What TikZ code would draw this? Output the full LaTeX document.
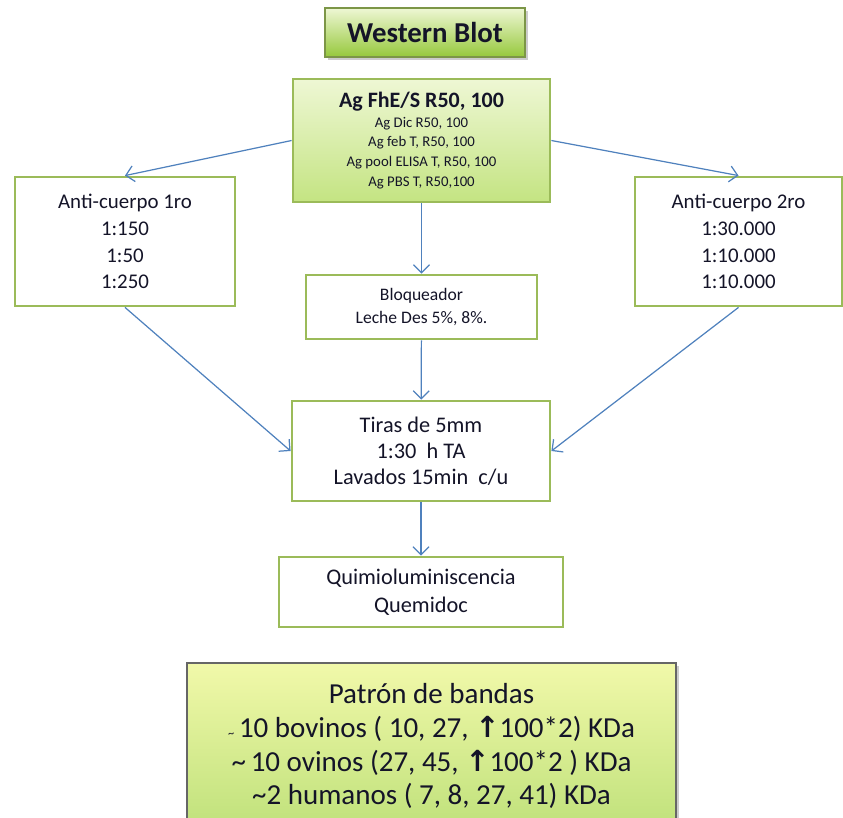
\documentclass[tikz,border=0pt]{standalone}
\usepackage{fontspec}
\setmainfont{Carlito}
\newfontfamily\symfont{DejaVu Sans}
\usetikzlibrary{arrows.meta, shadows}
\definecolor{blotgreen}{RGB}{155,187,89}
\definecolor{blotblue}{RGB}{79,129,189}
\definecolor{blotlight}{RGB}{238,247,212}
\definecolor{blotmid}{RGB}{196,228,130}
\definecolor{blotdark}{RGB}{150,200,60}
\definecolor{blotink}{RGB}{20,20,40}

\begin{document}
\begin{tikzpicture}[
        box/.style={rectangle, draw=blotgreen, line width=1.6pt, fill=white, align=center, text=blotink},
        shadebox/.style={box, top color=blotlight, bottom color=blotmid},
        titlebox/.style={rectangle, draw=blotgreen!80!black, line width=0.6pt, top color=blotlight, bottom color=blotdark,
          drop shadow={shadow xshift=0.6mm, shadow yshift=-0.6mm, opacity=0.4}, align=center, text=blotink},
        arr/.style={-{Straight Barb[length=1.6mm, width=3.2mm]}, blotblue, line width=0.7pt}
      ]
        \clip (0,0) rectangle (16.86,-16.34);
        \useasboundingbox (0,0) rectangle (16.86,-16.34);

        \node[titlebox, minimum width=4cm, minimum height=0.98cm, font=\fontsize{16.4}{18}\selectfont\bfseries] (title) at (8.5,-0.65) {Western Blot};

        \node[shadebox, minimum width=5.14cm, minimum height=2.46cm, font=\fontsize{8.4}{11.3}\selectfont] (ag) at (8.43,-2.81)
          {{\fontsize{12.5}{14}\selectfont\bfseries Ag FhE/S R50, 100}\\Ag Dic R50, 100\\Ag feb T, R50, 100\\Ag pool ELISA T, R50, 100\\Ag PBS T, R50,100};

        \node[box, minimum width=4.4cm, minimum height=2.58cm, font=\fontsize{11.9}{15.3}\selectfont] (primero) at (2.5,-4.83)
          {Anti-cuerpo 1ro\\1:150\\1:50\\1:250};
        \node[box, minimum width=4.14cm, minimum height=2.58cm, font=\fontsize{11.9}{15.3}\selectfont] (segundo) at (14.77,-4.83)
          {Anti-cuerpo 2ro\\1:30.000\\1:10.000\\1:10.000};

        \node[box, minimum width=4.62cm, minimum height=1.28cm, font=\fontsize{10}{13}\selectfont] (bloq) at (8.43,-6.14)
          {Bloqueador\\Leche Des 5\%, 8\%.};
        \node[box, minimum width=5.16cm, minimum height=2cm, font=\fontsize{12.7}{14.7}\selectfont] (tiras) at (8.42,-9.02)
          {Tiras de 5mm\\1:30\ \ h TA\\Lavados 15min\ \ c/u};
        \node[box, minimum width=5.68cm, minimum height=1.4cm, font=\fontsize{12.7}{15.9}\selectfont] (quimio) at (8.42,-11.84)
          {Quimioluminiscencia\\Quemidoc};

        \node[box, top color=blotlight!80!yellow, bottom color=blotmid!90!blotdark, line width=0.6pt, draw=black!60,
          drop shadow={shadow xshift=0.5mm, shadow yshift=-0.5mm, opacity=0.4},
          minimum width=9.78cm, minimum height=3.32cm, font=\fontsize{16.5}{19.3}\selectfont] (patron) at (8.63,-14.92)
          {Patrón de bandas\\
           {\scriptsize\textasciitilde}\,10 bovinos ( 10, 27, {\symfont\bfseries ↑}100*2) KDa\\
           \textasciitilde\,10 ovinos (27, 45, {\symfont\bfseries ↑}100*2 ) KDa\\
           \textasciitilde2 humanos ( 7, 8, 27, 41) KDa};

        \draw[arr] (ag.west) -- (primero.north);
        \draw[arr] (ag.east) -- (segundo.north);
        \draw[arr] (ag) -- (bloq);
        \draw[arr] (bloq) -- (tiras);
        \draw[arr] (primero.south) -- (tiras.west);
        \draw[arr] (segundo.south) -- (tiras.east);
        \draw[arr] (tiras) -- (quimio);
      \end{tikzpicture}
\end{document}
